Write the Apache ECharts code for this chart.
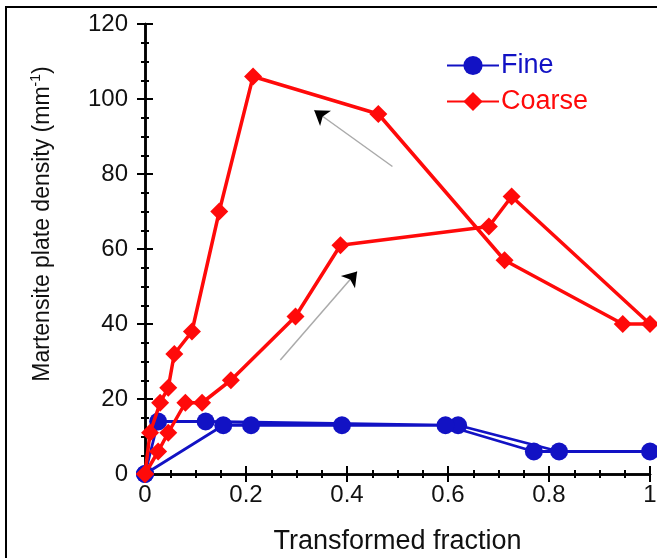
<!DOCTYPE html>
<html>
<head>
<meta charset="utf-8">
<title>Martensite plate density</title>
<script src="https://cdn.jsdelivr.net/npm/echarts@6/dist/echarts.min.js"></script>
<style>
  html, body { margin: 0; padding: 0; background: #fff; overflow: hidden; }
  #frame { position: absolute; left: 5px; top: 6px; width: 700px; height: 600px; border: 2px solid #000; box-sizing: border-box; }
  #main { position: absolute; left: 0; top: 0; width: 657px; height: 558px; }
</style>
</head>
<body>
<div id="frame"></div>
<div id="main"></div>
<script>
// transformed fraction / plate density, in the order the curve is drawn
var fineX = [0, 0.155, 0.21, 0.39, 0.62, 0.82, 1.0, 0.77, 0.595, 0.12, 0.026, 0];
var fineY = [0, 13, 13, 13, 13, 6, 6, 6, 13, 14, 14, 0];

var coarseX = [0, 0.026, 0.046, 0.08, 0.113, 0.17, 0.298, 0.387, 0.681, 0.726, 1.0, 0.946, 0.712, 0.462, 0.214, 0.147, 0.093, 0.058, 0.046, 0.03, 0.01, 0];
var coarseY = [0, 6, 11, 19, 19, 25, 42, 61, 66, 74, 40, 40, 57, 96, 106, 70, 38, 32, 23, 19, 11, 0];

// the two arrows (start -> end)
var arrowUp = [[0.268, 30.4], [0.42, 54]];
var arrowBack = [[0.49, 82], [0.335, 97]];

var xTicks = [0, 0.2, 0.4, 0.6, 0.8, 1];
var yTicks = [0, 20, 40, 60, 80, 100, 120];

var blue = '#1212c4';
var red = '#ff0a0a';
var font = 'Liberation Sans, Arial, sans-serif';

function pairs(xs, ys) {
	var out = [];
	for (var i = 0; i < xs.length; i++) out.push([xs[i], ys[i]]);
	return out;
}

function baseAxis(extra) {
	var a = {
		type: 'value',
		axisLine: {show: true, lineStyle: {color: '#000', width: 2.5}},
		axisTick: {show: true, inside: true, length: 8, lineStyle: {color: '#000', width: 2}},
		minorTick: {show: true, splitNumber: 4, length: 4, lineStyle: {color: '#000', width: 2}},
		splitLine: {show: false},
		axisLabel: {show: false}
	};
	for (var k in extra) a[k] = extra[k];
	return a;
}

var myChart = echarts.init(document.getElementById('main'));

var option = {
	animation: false,
	// fixed plot box, no automatic shrinking for labels
	grid: {left: 145, right: 7, top: 24, bottom: 84, containLabel: false, outerBoundsMode: 'none'},
	legend: {
		orient: 'vertical',
		left: 441,
		top: 47,
		itemWidth: 52,
		itemHeight: 24,
		itemGap: 9,
		textStyle: {fontSize: 27, fontFamily: font, padding: [0, 0, 0, -3]},
		data: [
			{name: 'Fine', textStyle: {color: blue}},
			{name: 'Coarse', textStyle: {color: red}}
		]
	},
	xAxis: [
		baseAxis({
			min: xTicks[0], max: xTicks[xTicks.length - 1], interval: 0.2,
			position: 'bottom',
			name: 'Transformed fraction', nameLocation: 'middle', nameGap: 54,
			nameTextStyle: {fontSize: 27, color: '#111', fontFamily: font},
			axisLabel: {show: true, margin: 9, fontSize: 24, color: '#111', fontFamily: font}
		}),
		baseAxis({min: xTicks[0], max: xTicks[xTicks.length - 1], interval: 0.2, position: 'top'})
	],
	yAxis: [
		baseAxis({
			min: yTicks[0], max: yTicks[yTicks.length - 1], interval: 20,
			position: 'left',
			name: '{a|Martensite plate density (mm}{s|-1}{a|)}',
			nameLocation: 'middle', nameGap: 88, nameRotate: 90,
			nameTextStyle: {
				padding: [0, 0, 0, 50],
				rich: {
					a: {fontSize: 23, color: '#111', fontFamily: font, lineHeight: 28},
					s: {fontSize: 14, color: '#111', fontFamily: font, lineHeight: 28, verticalAlign: 'top'}
				}
			},
			axisLabel: {show: true, margin: 17, fontSize: 24, color: '#111', fontFamily: font}
		}),
		baseAxis({min: yTicks[0], max: yTicks[yTicks.length - 1], interval: 20, position: 'right'})
	],
	series: [
		{
			name: 'Fine',
			type: 'line',
			data: pairs(fineX, fineY),
			symbol: 'circle',
			symbolSize: 18,
			color: blue,
			lineStyle: {color: blue, width: 2.8},
			itemStyle: {color: blue},
			z: 3
		},
		{
			name: 'Coarse',
			type: 'line',
			data: pairs(coarseX, coarseY),
			symbol: 'diamond',
			symbolSize: 18,
			color: red,
			lineStyle: {color: red, width: 3.5},
			itemStyle: {color: red},
			z: 4
		},
		// gray shafts of the arrows
		{
			type: 'lines',
			coordinateSystem: 'cartesian2d',
			symbol: ['none', 'none'],
			lineStyle: {color: '#aaa', width: 1.5, opacity: 1},
			data: [{coords: arrowUp}, {coords: arrowBack}],
			z: 2
		},
		// black heads only
		{
			type: 'lines',
			coordinateSystem: 'cartesian2d',
			symbol: ['none', 'arrow'],
			symbolSize: 14,
			lineStyle: {color: '#000', width: 0, opacity: 1},
			data: [{coords: arrowUp}, {coords: arrowBack}],
			z: 2
		}
	]
};

myChart.setOption(option);
window.addEventListener('resize', function() {
	myChart.resize();
});
</script>
</body>
</html>
